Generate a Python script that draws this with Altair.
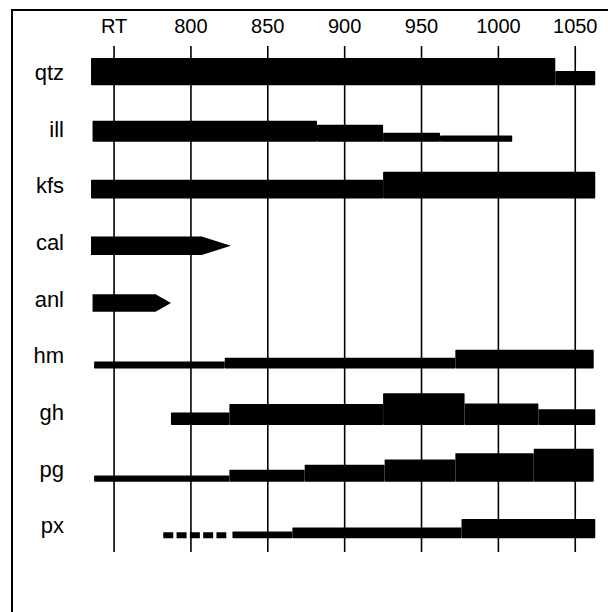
import altair as alt
import pandas as pd

# ---- data ----
phases = ["qtz", "ill", "kfs", "cal", "anl", "hm", "gh", "pg", "px"]
tick_values = [750, 800, 850, 900, 950, 1000, 1050]
tick_labels = ["RT", "800", "850", "900", "950", "1000", "1050"]

# solid step segments: phase, start T, end T, relative amount (bar thickness, in row units)
seg_phase = ["qtz", "qtz",
             "ill", "ill", "ill", "ill",
             "kfs", "kfs",
             "hm", "hm", "hm",
             "gh", "gh", "gh", "gh", "gh",
             "pg", "pg", "pg", "pg", "pg", "pg",
             "px", "px", "px"]
seg_start = [735, 1037,
             736, 882, 925, 962,
             735, 925,
             737, 822, 972,
             787, 825, 925, 978, 1026,
             737, 825, 874, 926, 972, 1023,
             827, 866, 976]
seg_end = [1037, 1063,
           882, 925, 962, 1009,
           925, 1063,
           822, 972, 1062,
           825, 925, 978, 1026, 1063,
           825, 874, 926, 972, 1023, 1062,
           866, 976, 1063]
seg_amount = [0.48, 0.25,
              0.37, 0.30, 0.16, 0.11,
              0.33, 0.47,
              0.12, 0.19, 0.33,
              0.22, 0.37, 0.56, 0.38, 0.28,
              0.11, 0.21, 0.30, 0.39, 0.50, 0.58,
              0.12, 0.19, 0.34]

# arrow-ended phases (breakdown)
arrow_phase = ["cal", "anl"]
arrow_start = [735, 736]
arrow_body_end = [807, 777]
arrow_tip = [826, 787]
arrow_amount = [0.33, 0.31]

# uncertain (dashed) segments
dash_phase = ["px"]
dash_start = [782]
dash_end = [823]
dash_amount = [0.11]

# ---- tables ----
row_of = {p: i for i, p in enumerate(phases)}

seg_df = pd.DataFrame({"phase": seg_phase, "start": seg_start, "end": seg_end, "amount": seg_amount})
seg_df["row"] = seg_df["phase"].map(row_of)
seg_df["top"] = seg_df["row"] - seg_df["amount"]

arr_rows = []
for p, s, b, t, a in zip(arrow_phase, arrow_start, arrow_body_end, arrow_tip, arrow_amount):
    r = row_of[p]
    arr_rows.append({"phase": p, "x": s, "lo": r, "hi": r - a})
    arr_rows.append({"phase": p, "x": b, "lo": r, "hi": r - a})
    arr_rows.append({"phase": p, "x": t, "lo": r - a / 2, "hi": r - a / 2})
arr_df = pd.DataFrame(arr_rows)

dash_df = pd.DataFrame({"phase": dash_phase, "start": dash_start, "end": dash_end, "amount": dash_amount})
dash_df["row"] = dash_df["phase"].map(row_of)
dash_df["mid"] = dash_df["row"] - dash_df["amount"] / 2

tick_df = pd.DataFrame({"value": tick_values, "label": tick_labels})
lab_df = pd.DataFrame({"phase": phases, "row": list(range(len(phases)))})

FONT = "Liberation Sans"
xs = alt.Scale(domain=[675.8, 1071.3], nice=False, zero=False)
ys = alt.Scale(domain=[-1.504, 9.301], reverse=True, nice=False, zero=False)

grid = alt.Chart(tick_df).mark_rule(color="black", strokeWidth=1.6).encode(
    x=alt.X("value:Q", scale=xs, axis=None),
    y=alt.value(46), y2=alt.value(552),
)

ticktext = alt.Chart(tick_df).mark_text(
    font=FONT, fontSize=20, color="black", align="center", baseline="middle"
).encode(
    x=alt.X("value:Q", scale=xs, axis=None),
    y=alt.value(27),
    text="label:N",
)

bars = alt.Chart(seg_df).mark_rect(color="black", cornerRadius=1).encode(
    x=alt.X("start:Q", scale=xs, axis=None), x2="end:Q",
    y=alt.Y("row:Q", scale=ys, axis=None), y2="top:Q",
)

arrows = alt.Chart(arr_df).mark_area(color="black", interpolate="linear").encode(
    x=alt.X("x:Q", scale=xs, axis=None),
    y=alt.Y("lo:Q", scale=ys, axis=None), y2="hi:Q",
    detail="phase:N",
)

dashes = alt.Chart(dash_df).mark_rule(color="black", strokeWidth=6, strokeDash=[10, 3.3], strokeCap="butt").encode(
    x=alt.X("start:Q", scale=xs, axis=None), x2="end:Q",
    y=alt.Y("mid:Q", scale=ys, axis=None),
)

rowtext = alt.Chart(lab_df).mark_text(
    font=FONT, fontSize=22, color="black", align="right", baseline="middle", dy=-12
).encode(
    x=alt.value(64),
    y=alt.Y("row:Q", scale=ys, axis=None),
    text="phase:N",
)

one = pd.DataFrame({"k": [0]})
frame_left = alt.Chart(one).mark_rule(color="black", strokeWidth=2).encode(
    x=alt.value(12), y=alt.value(9), y2=alt.value(612)
)
frame_top = alt.Chart(one).mark_rule(color="black", strokeWidth=2).encode(
    x=alt.value(11), x2=alt.value(608), y=alt.value(10)
)

chart = alt.layer(grid, bars, arrows, dashes, ticktext, rowtext, frame_left, frame_top).properties(
    width=608, height=612, padding=0, autosize=alt.AutoSizeParams(type="none"), background="white"
).configure_view(stroke=None)

chart.save("out.html", embed_options={"renderer": "svg", "actions": False})
